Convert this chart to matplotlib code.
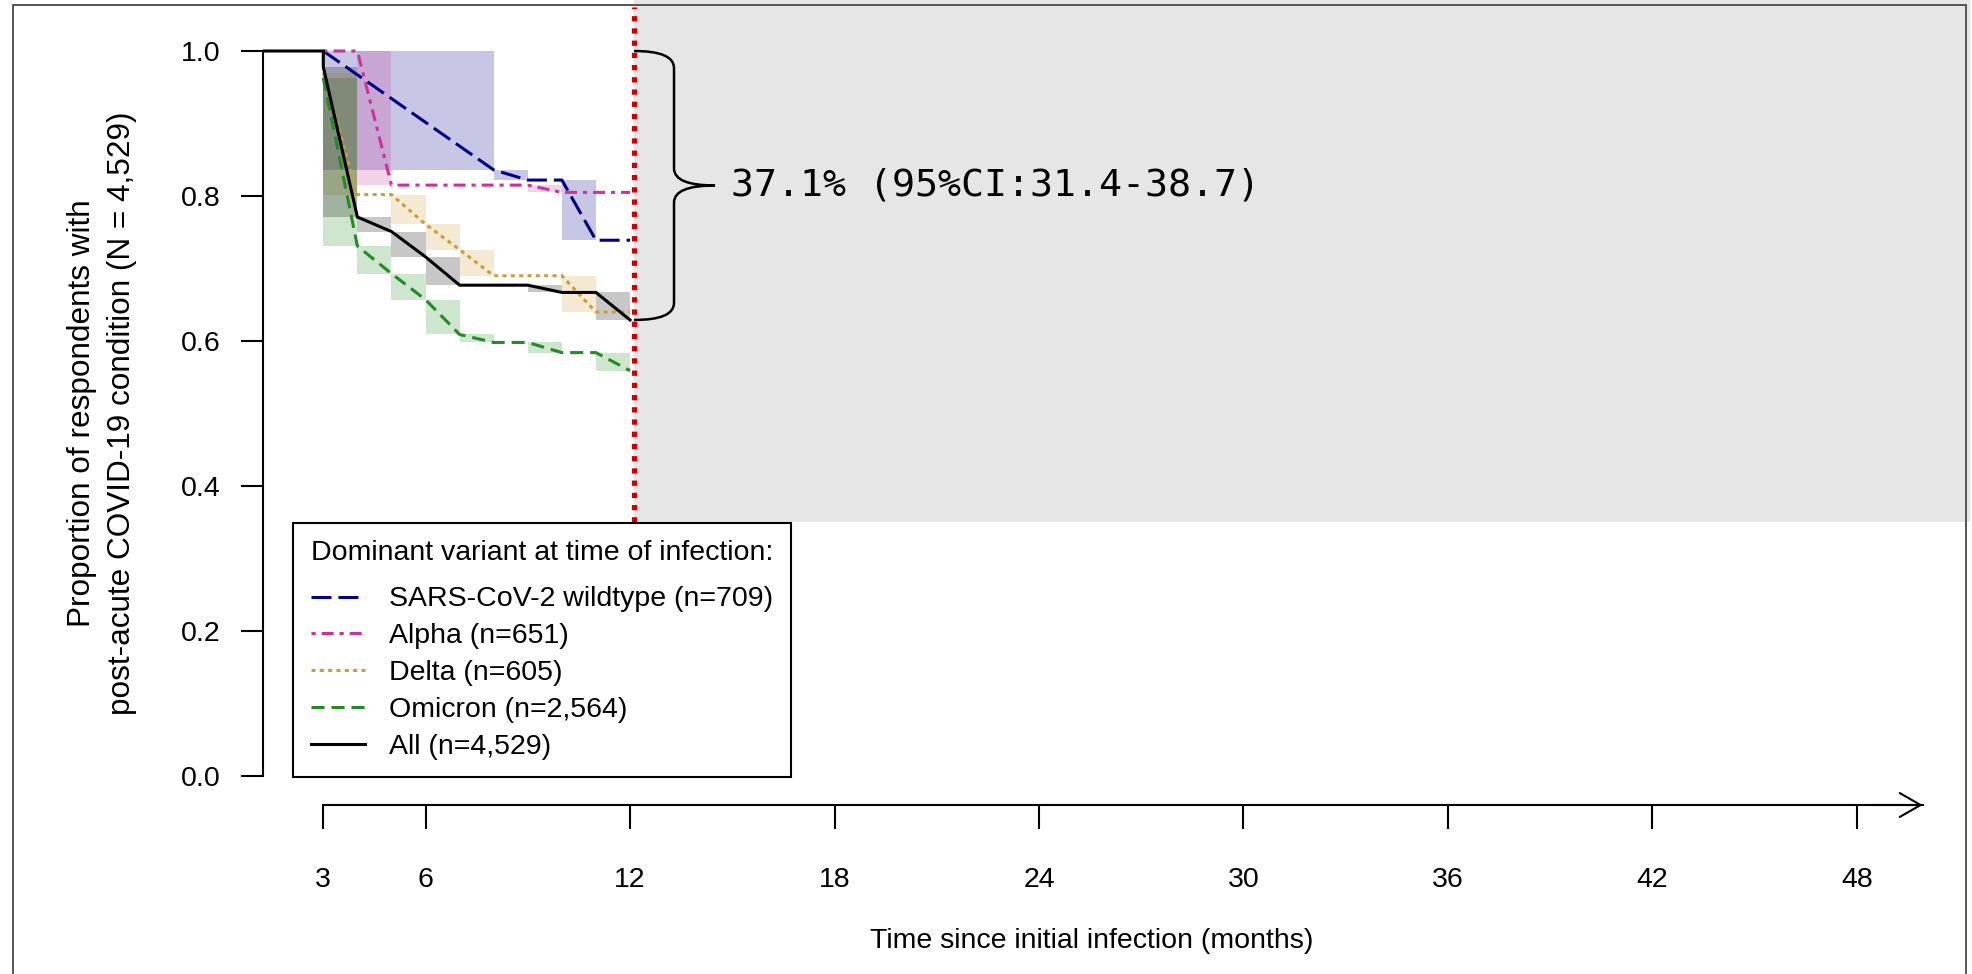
import matplotlib
matplotlib.use("Agg")
import matplotlib.pyplot as plt
import numpy as np
from matplotlib.patches import Rectangle, PathPatch
from matplotlib.path import Path
import matplotlib.transforms as mtransforms

plt.rcParams['font.family'] = ['Liberation Sans', 'DejaVu Sans']
plt.rcParams['lines.scale_dashes'] = False

# ---------------- data ----------------
wild_t = [3, 8, 9, 10, 11, 12]
wild_s = [1.0, 0.836, 0.822, 0.822, 0.739, 0.739]

alpha_t = [3, 4, 5, 6, 7, 8, 9, 10, 11, 12]
alpha_s = [1.0, 1.0, 0.815, 0.815, 0.815, 0.815, 0.815, 0.805, 0.805, 0.805]

delta_t = [3, 4, 5, 6, 7, 8, 9, 10, 11, 12]
delta_s = [0.970, 0.802, 0.802, 0.761, 0.726, 0.690, 0.690, 0.690, 0.640, 0.640]

omicron_t = [3, 4, 5, 6, 7, 8, 9, 10, 11, 12]
omicron_s = [0.963, 0.731, 0.693, 0.657, 0.609, 0.598, 0.598, 0.584, 0.584, 0.559]

all_t = [0, 3, 3, 4, 5, 6, 7, 8, 9, 10, 11, 12]
all_s = [1.0, 1.0, 0.978, 0.771, 0.751, 0.716, 0.677, 0.677, 0.677, 0.667, 0.667, 0.629]

series_labels = ['SARS-CoV-2 wildtype (n=709)', 'Alpha (n=651)', 'Delta (n=605)',
                 'Omicron (n=2,564)', 'All (n=4,529)']
legend_title = 'Dominant variant at time of infection:'
x_ticks = [3, 6, 12, 18, 24, 30, 36, 42, 48]
y_ticks = [0.0, 0.2, 0.4, 0.6, 0.8, 1.0]
cutoff_month = 12
reduction_text = '37.1% (95%CI:31.4-38.7)'
x_label = 'Time since initial infection (months)'
y_label_1 = 'Proportion of respondents with'
y_label_2 = 'post-acute COVID-19 condition (N = 4,529)'

# ---------------- styles ----------------
colors = ['#00008B', '#CC3399', '#D09C35', '#228B22', '#000000']
dashes = [(0, (14.4, 5.0)), (0, (3, 4.3, 8.6, 4.3)), (0, (2.9, 3.1)), (0, (9.4, 5)), '-']
LW = 2.2
BOX_ALPHA = 0.22
FS = 20.5

# ---------------- layout (pixel mapping of the reference) ----------------
W, H, DPI = 1972, 974, 100
PX_PER_MONTH = 34.08
X3_PX = 323.3
Y0_PX, Y1_PX = 776.0, 51.0
XL = 3 - X3_PX / PX_PER_MONTH
XR = 3 + (W - X3_PX) / PX_PER_MONTH
PX_PER_UNIT = Y0_PX - Y1_PX
YB = (Y0_PX - H) / PX_PER_UNIT
YT = Y0_PX / PX_PER_UNIT

def mx(px):
    return 3 + (px - X3_PX) / PX_PER_MONTH

def vy(py):
    return (Y0_PX - py) / PX_PER_UNIT

fig = plt.figure(figsize=(W / DPI, H / DPI), dpi=DPI)
ax = fig.add_axes([0, 0, 1, 1])
ax.set_xlim(XL, XR)
ax.set_ylim(YB, YT)
ax.patch.set_alpha(0)

YAXIS_X = mx(263)
XAXIS_Y = vy(805)
ARROW_TIP = mx(1922.7)
GRAY_BOTTOM = vy(522)

# gray annotation area and red cutoff line
shift = mtransforms.ScaledTranslation(4 / DPI, 0, fig.dpi_scale_trans)
ax.add_patch(Rectangle((cutoff_month, GRAY_BOTTOM), mx(1966) - cutoff_month, YT - GRAY_BOTTOM,
                       facecolor='#E6E6E6', edgecolor='none', zorder=0,
                       transform=ax.transData + shift))
ax.plot([cutoff_month, cutoff_month], [GRAY_BOTTOM, vy(7)], color='#D00000', lw=3.8,
        linestyle=(0, (3.8, 5.0)), solid_capstyle='butt', dash_capstyle='butt',
        transform=ax.transData + shift, zorder=6)

# curves and interval boxes
all_series = [(wild_t, wild_s), (alpha_t, alpha_s), (delta_t, delta_s),
              (omicron_t, omicron_s), (all_t, all_s)]
clip = Rectangle((YAXIS_X, YB), XR - YAXIS_X, YT - YB, transform=ax.transData)
handles = []
for (t, s), c, ls, lab in zip(all_series, colors, dashes, series_labels):
    t = np.asarray(t, float)
    s = np.asarray(s, float)
    ax.bar(t[:-1], np.diff(s), bottom=s[:-1], width=np.diff(t), align='edge',
           color=c, alpha=BOX_ALPHA, linewidth=0, zorder=2)
    ln, = ax.plot(t, s, color=c, lw=LW, linestyle=ls, dash_capstyle='butt',
                  solid_joinstyle='miter', zorder=4, label=lab)
    ln.set_clip_path(clip)
    handles.append(ln)

# axes
for side in ['top', 'right']:
    ax.spines[side].set_visible(False)
ax.spines['left'].set_position(('data', YAXIS_X))
ax.spines['left'].set_bounds(0, 1)
ax.spines['bottom'].set_position(('data', XAXIS_Y))
ax.spines['bottom'].set_bounds(3, ARROW_TIP)
for side in ['left', 'bottom']:
    ax.spines[side].set_linewidth(1.5)
ax.set_xticks(x_ticks)
ax.set_xticklabels([str(v) for v in x_ticks])
ax.set_yticks(y_ticks)
ax.set_yticklabels(['%.1f' % v for v in y_ticks])
ax.tick_params(axis='x', direction='out', length=17.3, width=1.5, pad=27, labelsize=FS)
ax.tick_params(axis='y', direction='out', length=15.8, width=1.5, pad=15, labelsize=FS)
ax.annotate('', xy=(ARROW_TIP, XAXIS_Y), xytext=(ARROW_TIP - 1.5, XAXIS_Y),
            arrowprops=dict(arrowstyle='->,head_length=0.75,head_width=0.43',
                            lw=1.5, color='black', shrinkA=0, shrinkB=0,
                            mutation_scale=20))

ax.text(mx(1091.6), vy(948), x_label, ha='center', va='baseline', fontsize=FS)
ax.text(mx(81.7), 0.5, y_label_1, rotation=90, ha='center', va='center', fontsize=22.7)
ax.text(mx(121.7), 0.5, y_label_2, rotation=90, ha='center', va='center', fontsize=22.7)

# brace + annotation
y_top = all_s[0]
y_bot = all_s[-1]
y_mid = (y_top + y_bot) / 2
r = 17 / PX_PER_UNIT
x0 = cutoff_month
xb = x0 + 40 / PX_PER_MONTH
xt = x0 + 81 / PX_PER_MONTH
verts = [(x0, y_top), (xb, y_top), (xb, y_top - r),
         (xb, y_mid + r), (xb, y_mid), (xt, y_mid),
         (xb, y_mid), (xb, y_mid - r),
         (xb, y_bot + r), (xb, y_bot), (x0, y_bot)]
codes = [Path.MOVETO, Path.CURVE3, Path.CURVE3,
         Path.LINETO, Path.CURVE3, Path.CURVE3,
         Path.CURVE3, Path.CURVE3,
         Path.LINETO, Path.CURVE3, Path.CURVE3]
ax.add_patch(PathPatch(Path(verts, codes), facecolor='none', edgecolor='black', lw=1.8,
                       transform=ax.transData + shift, zorder=7))
ax.text(xt + 16 / PX_PER_MONTH, y_mid, reduction_text, family='DejaVu Sans Mono',
        fontsize=27.5, ha='left', va='center', transform=ax.transData + shift, zorder=7)

# legend
leg = ax.legend(handles=handles, labels=series_labels, title=legend_title,
                loc='upper left', bbox_to_anchor=(mx(292.9), vy(522.7)),
                bbox_transform=ax.transData, fontsize=FS, title_fontsize=FS,
                alignment='left', frameon=True, fancybox=False, edgecolor='black',
                framealpha=1, borderpad=0.62, borderaxespad=0, handlelength=1.9,
                handletextpad=0.85, labelspacing=0.38)
leg.get_frame().set_linewidth(1.5)
leg.set_zorder(8)
try:
    leg._legend_box.sep = 14.5   # extra gap between title and entries
except Exception:
    pass

# figure border (no bottom edge in the reference)
fig.patches.append(Rectangle((12.7 / W, -0.02), (1966 - 12.7) / W, 1.02 - 5 / H,
                             transform=fig.transFigure, fill=False,
                             edgecolor='#555555', lw=1.4, zorder=10))

fig.savefig('out.png', dpi=DPI)
